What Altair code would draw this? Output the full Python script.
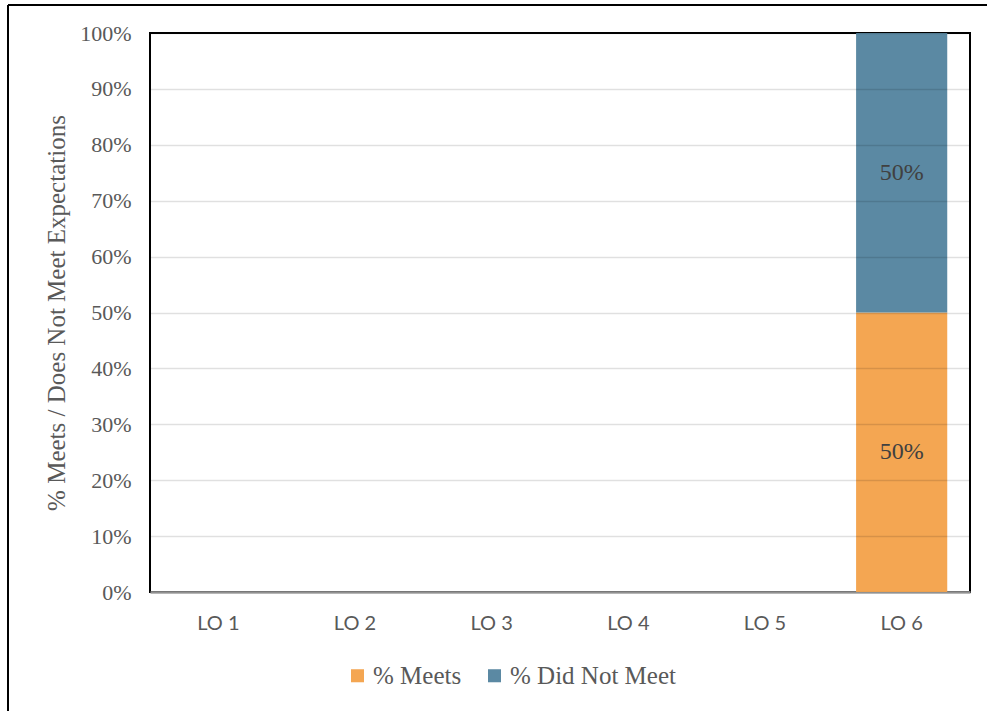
import altair as alt
import pandas as pd

categories = ["LO 1", "LO 2", "LO 3", "LO 4", "LO 5", "LO 6"]
meets = [0, 0, 0, 0, 0, 50]
did_not_meet = [0, 0, 0, 0, 0, 50]
series = ["% Meets", "% Did Not Meet"]
colors = ["#F4A652", "#5B89A3"]

rows = []
for i, c in enumerate(categories):
    rows.append({"cat": c, "series": series[0], "order": 0, "value": meets[i]})
    rows.append({"cat": c, "series": series[1], "order": 1, "value": did_not_meet[i]})
df = pd.DataFrame(rows)

SERIF = "Liberation Serif"
GRAY = "#595959"

x_enc = alt.X("cat:N", sort=categories, title=None,
              scale=alt.Scale(paddingInner=0.333, paddingOuter=0.1665),
              axis=alt.Axis(labelAngle=0, labelFont="Lato", labelFontSize=20,
                            labelColor=GRAY, labelPadding=21, ticks=False,
                            domainColor="#A6A6A6", domainWidth=2.5, grid=False))
y_enc = alt.Y("value:Q", stack="zero", title="% Meets / Does Not Meet Expectations",
              scale=alt.Scale(domain=[0, 100]),
              axis=alt.Axis(values=list(range(0, 101, 10)),
                            labelExpr="datum.value + '%'",
                            labelFont=SERIF, labelFontSize=22, labelColor=GRAY,
                            labelPadding=19, ticks=False, domain=False,
                            gridColor="#000000", gridOpacity=0.12, gridWidth=1.5,
                            titleFont=SERIF, titleFontSize=25, titleColor=GRAY,
                            titleFontWeight="normal", titlePadding=10, zindex=1))

bars = alt.Chart(df).mark_bar().encode(
    x=x_enc,
    y=y_enc,
    color=alt.Color("series:N", sort=series,
                    scale=alt.Scale(domain=series, range=colors),
                    legend=alt.Legend(title=None, orient="none", direction="horizontal",
                                      legendX=195, legendY=630,
                                      symbolType="square", symbolSize=170,
                                      symbolStrokeWidth=0, labelLimit=400,
                                      labelFont=SERIF, labelFontSize=25, labelColor=GRAY,
                                      labelOffset=3, columnPadding=20)),
    order=alt.Order("order:Q"),
)

labels = alt.Chart(df).transform_filter("datum.value > 0").transform_stack(
    stack="value", groupby=["cat"], as_=["v0", "v1"], sort=[alt.SortField("order")]
).transform_calculate(
    mid="(datum.v0 + datum.v1) / 2", txt="datum.value + '%'"
).mark_text(font=SERIF, fontSize=24, color="#404040").encode(
    x=alt.X("cat:N", sort=categories),
    y=alt.Y("mid:Q"),
    text="txt:N",
)

frame = alt.Chart(df).mark_rule(color="#000000", strokeWidth=2).encode(
    x=alt.value(-142), x2=alt.value(837), y=alt.value(-28)
)
frame_left = alt.Chart(df).mark_rule(color="#000000", strokeWidth=2).encode(
    x=alt.value(-142), y=alt.value(-28), y2=alt.value(700)
)

chart = alt.layer(bars, labels, frame, frame_left).properties(
    width=820, height=559,
    autosize=alt.AutoSizeParams(type="none"),
    padding={"left": 150, "top": 33, "right": 17, "bottom": 119},
    background="white",
).configure_view(stroke="#000000", strokeWidth=2)

chart.save("out.html", embed_options={"renderer": "svg", "actions": False})
